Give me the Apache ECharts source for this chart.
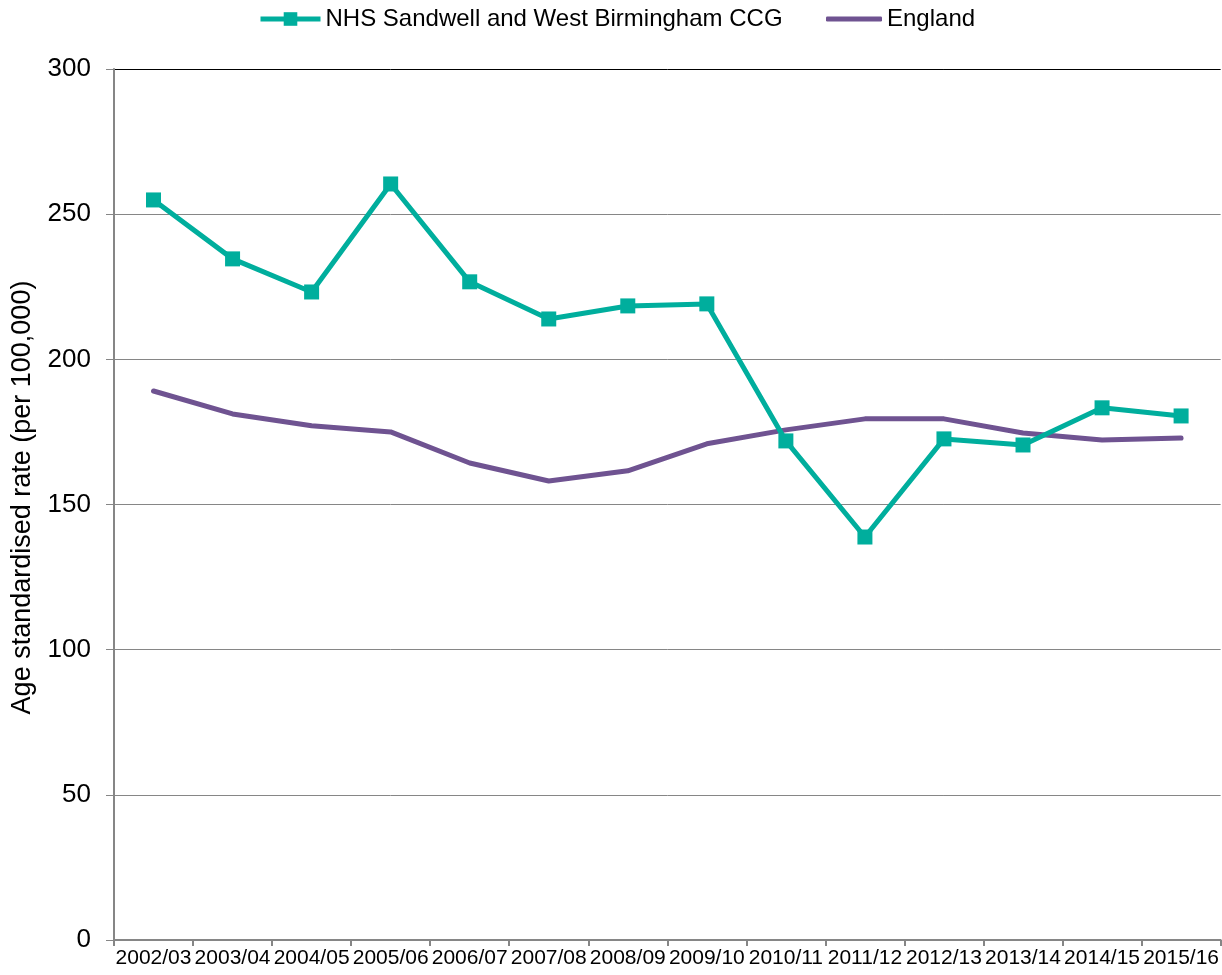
<!DOCTYPE html>
<html>
<head>
<meta charset="utf-8">
<script src="https://cdn.jsdelivr.net/npm/echarts@6/dist/echarts.min.js"></script>
<style>
  html, body { margin: 0; padding: 0; background: #fff; }
  #chart { width: 1222px; height: 975px; }
</style>
</head>
<body>
<div id="chart"></div>
<script>
// Financial years on the category axis
const years = ['2002/03', '2003/04', '2004/05', '2005/06', '2006/07', '2007/08', '2008/09',
  '2009/10', '2010/11', '2011/12', '2012/13', '2013/14', '2014/15', '2015/16'];

// Age standardised rate per 100,000
const ccgRates = [254.9, 234.6, 223.2, 260.4, 226.7, 213.9, 218.4, 219.1, 171.9, 138.8, 172.6, 170.5, 183.3, 180.5];
const englandRates = [189.1, 181.2, 177.1, 175.0, 164.3, 158.1, 161.6, 170.9, 175.7, 179.5, 179.5, 174.6, 172.2, 172.9];

const seriesNames = ['NHS Sandwell and West Birmingham CCG', 'England'];

const TEAL = '#00AE9D';
const PURPLE = '#6F5391';
const GRID_GREY = '#868686';
const FONT = 'Liberation Sans, Arial, sans-serif';

const chart = echarts.init(document.getElementById('chart'), null, { renderer: 'canvas' });

const legendText = { fontFamily: FONT, fontSize: 24, color: '#000' };

chart.setOption({
  animation: false,
  backgroundColor: '#ffffff',
  textStyle: { fontFamily: FONT, color: '#000' },
  legend: [
    {
      left: 258,
      top: 7,
      padding: 0,
      itemWidth: 60,
      itemHeight: 17,
      itemGap: 4,
      lineStyle: { width: 5 },
      textStyle: legendText,
      data: [seriesNames[0]]
    },
    {
      left: 826,
      top: 7,
      padding: 0,
      itemWidth: 56,
      itemHeight: 5,
      textStyle: legendText,
      data: [{ name: seriesNames[1], icon: 'roundRect' }]
    }
  ],
  grid: { left: 114, right: 0, top: 69, bottom: 35, containLabel: false },
  xAxis: {
    type: 'category',
    data: years,
    boundaryGap: true,
    axisLine: { lineStyle: { color: GRID_GREY, width: 2 } },
    axisTick: { show: true, length: 6, lineStyle: { color: GRID_GREY, width: 2 } },
    axisLabel: { fontFamily: FONT, fontSize: 21, color: '#000', margin: 8, interval: 0 }
  },
  yAxis: {
    type: 'value',
    min: 0,
    max: 300,
    interval: 50,
    name: 'Age standardised rate (per 100,000)',
    nameLocation: 'middle',
    nameGap: 78,
    nameTextStyle: { fontFamily: FONT, fontSize: 27, color: '#000', padding: [0, 0, 0, 14] },
    axisLine: { show: true, lineStyle: { color: GRID_GREY, width: 2 } },
    axisTick: { show: true, length: 8, lineStyle: { color: GRID_GREY, width: 1 } },
    axisLabel: { fontFamily: FONT, fontSize: 26, color: '#000', margin: 23 },
    splitLine: {
      show: true,
      lineStyle: {
        color: [GRID_GREY, GRID_GREY, GRID_GREY, GRID_GREY, GRID_GREY, GRID_GREY, '#000000'],
        width: 1
      }
    }
  },
  series: [
    {
      name: seriesNames[0],
      type: 'line',
      data: ccgRates,
      symbol: 'rect',
      symbolSize: 15,
      lineStyle: { color: TEAL, width: 5 },
      itemStyle: { color: TEAL },
      z: 3
    },
    {
      name: seriesNames[1],
      type: 'line',
      data: englandRates,
      symbol: 'none',
      lineStyle: { color: PURPLE, width: 5, cap: 'round' },
      itemStyle: { color: PURPLE },
      z: 2
    }
  ]
});
</script>
</body>
</html>
